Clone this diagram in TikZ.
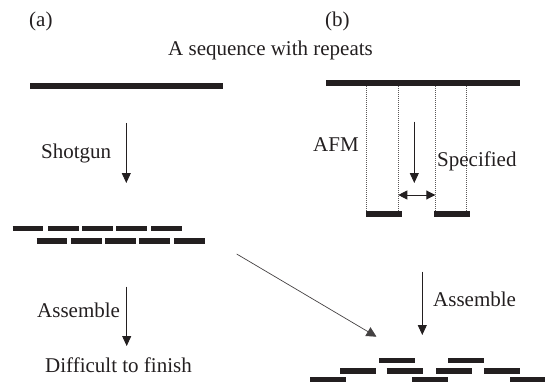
\documentclass[tikz,border=0pt]{standalone}
\usepackage{fontspec}
\setmainfont{Liberation Serif}
\usetikzlibrary{arrows.meta}
\definecolor{ink}{HTML}{231F20}
\begin{document}
\begin{tikzpicture}[x=1pt,y=-1pt,
  lbl/.style={inner sep=0pt, anchor=base west, font=\fontsize{21}{25}\selectfont, text=ink},
  strand/.style={line width=6pt, ink},
  frag/.style={line width=5.5pt, ink},
  flow/.style={-{Triangle[length=10pt,width=9pt]}, line width=0.9pt, ink},
  slant/.style={-{Triangle[length=10pt,width=10pt]}, line width=0.7pt, ink!85},
  span/.style={{Triangle[length=9pt,width=9pt]}-{Triangle[length=9pt,width=9pt]}, line width=0.9pt, ink},
  guide/.style={ink!75, line width=0.6pt, dash pattern=on 1pt off 1pt},
]
\useasboundingbox (0,0) rectangle (545,382);

% panel labels and title
\node[lbl] (pa) at (29,27) {(a)};
\node[lbl] (pb) at (325,27) {(b)};
\node[lbl] (title) at (168,56) {A sequence with repeats};

% ---------- (a) shotgun route ----------
\coordinate (seqA1) at (30,86);
\coordinate (seqA2) at (223,86);
\draw[strand] (seqA1) -- (seqA2);

\coordinate (shotTop) at (126.3,123);
\coordinate (shotBot) at (126.3,183);
\draw[flow] (shotTop) -- (shotBot);
\node[lbl] (shotgun) at (41,158.5) {Shotgun};

% random fragments in two staggered rows
\foreach \x in {12.7,48.3,82.3,116,151}
  \draw[frag] (\x,228.5) -- ++(30.5,0);
\foreach \x in {36.7,71,105,139.3,174}
  \draw[frag] (\x,241) -- ++(30.5,0);

\coordinate (asmATop) at (126.7,286.7);
\coordinate (asmABot) at (126.7,346);
\draw[flow] (asmATop) -- (asmABot);
\node[lbl] (asmA) at (37,317) {Assemble};
\node[lbl] (hard) at (45,372) {Difficult to finish};

% ---------- (b) AFM route ----------
\coordinate (seqB1) at (326,83);
\coordinate (seqB2) at (520,83);
\draw[strand] (seqB1) -- (seqB2);

% projection guides from the strand to the picked pieces
\foreach \x in {366.7,398.3,435.3,466.7}
  \draw[guide] (\x,86) -- (\x,211);

\coordinate (afmTop) at (414.3,121.7);
\coordinate (afmBot) at (414.3,183);
\draw[flow] (afmTop) -- (afmBot);

\coordinate (gapL) at (398.3,195);
\coordinate (gapR) at (435.3,195);
\draw[span] (gapL) -- (gapR);

\node[lbl] (afm) at (313,152) {AFM};
\node[lbl] (spec) at (437,166) {Specified};

\coordinate (pickL1) at (366,214);
\coordinate (pickL2) at (402,214);
\coordinate (pickR1) at (434,214);
\coordinate (pickR2) at (470,214);
\draw[strand] (pickL1) -- (pickL2);
\draw[strand] (pickR1) -- (pickR2);

\coordinate (asmBTop) at (422.3,271.7);
\coordinate (asmBBot) at (422.3,335);
\draw[flow] (asmBTop) -- (asmBBot);
\node[lbl] (asmB) at (433,306) {Assemble};

% shotgun fragments feed into the scaffold as well
\coordinate (slantA) at (236.7,254);
\coordinate (slantB) at (376.5,336.7);
\draw[slant] (slantA) -- (slantB);

% assembled tiling
\foreach \x in {379,448.3}
  \draw[frag] (\x,360.5) -- ++(36,0);
\foreach \x in {340,386.7,436,484}
  \draw[frag] (\x,371) -- ++(36,0);
\foreach \x in {310,412.3,510}
  \draw[frag] (\x,380) -- ++(36,0);
\end{tikzpicture}
\end{document}
